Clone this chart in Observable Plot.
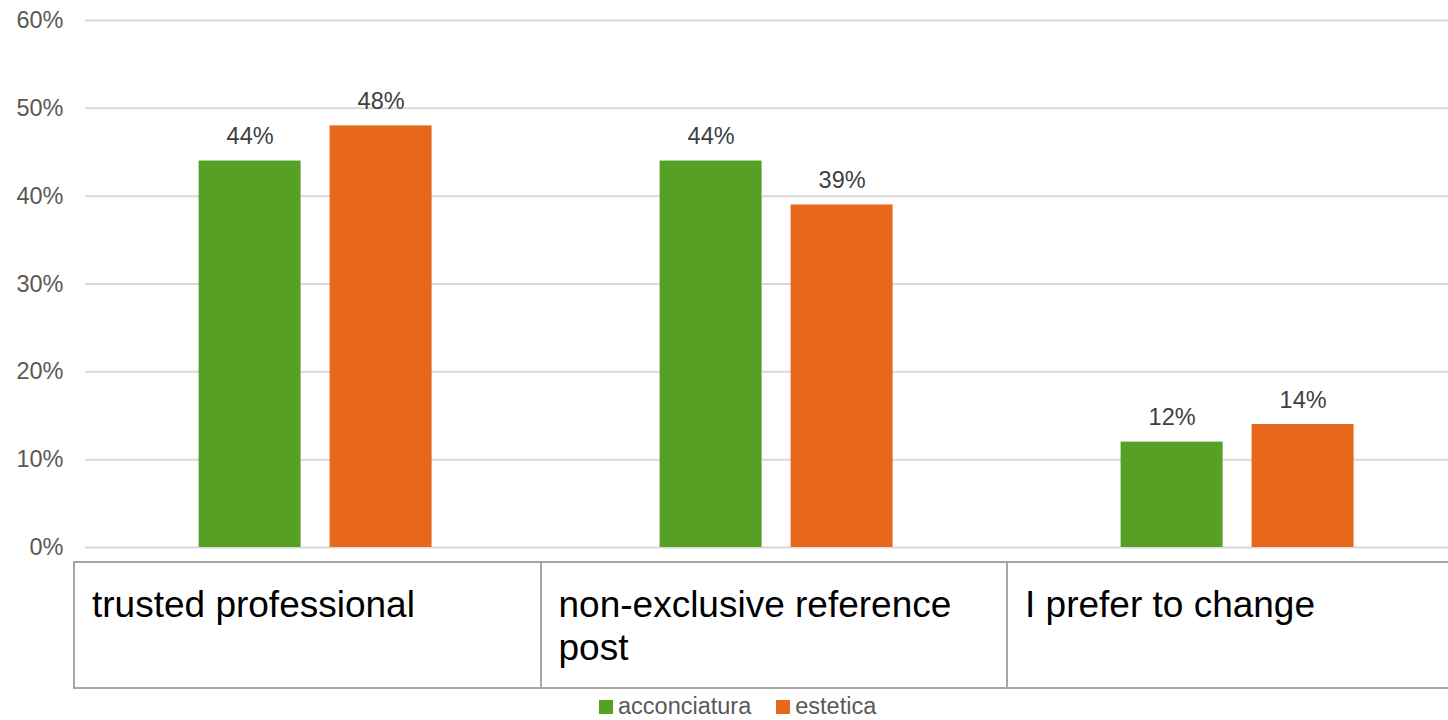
<!DOCTYPE html>
<html>
<head>
<meta charset="utf-8">
<script src="https://cdn.jsdelivr.net/npm/d3@7"></script>
<script src="https://cdn.jsdelivr.net/npm/@observablehq/plot@0.6"></script>
<style>
  html, body { margin: 0; padding: 0; background: #fff; }
  #wrap { position: relative; width: 1448px; height: 720px; overflow: hidden; background: #fff;
          font-family: "Liberation Sans", Arial, sans-serif; }
  #chart { position: absolute; left: 0; top: 0; width: 1469px; }
  #chart svg { max-width: none !important; }
  #table { position: absolute; left: 73px; top: 561px; height: 128px; display: grid;
           grid-template-columns: repeat(3, 466.5px); box-sizing: border-box;
           border-top: 2px solid #A6A6A6; border-bottom: 2px solid #A6A6A6; }
  #table .cell { box-sizing: border-box; border-left: 2px solid #A6A6A6; padding: 20px 30px 0 17px;
                 font-size: 37px; line-height: 43px; color: #000; }
  #legend { position: absolute; left: 599px; top: 693px; display: flex; align-items: center;
            font-size: 23.5px; color: #595959; }
  #legend .item { display: flex; align-items: center; margin-right: 25px; }
  #legend .sw { width: 14px; height: 14px; margin-right: 5px; }
</style>
</head>
<body>
<div id="wrap">
  <div id="chart"></div>
  <div id="table"></div>
  <div id="legend"></div>
</div>
<script>
const categories = ["trusted professional", "non-exclusive reference post", "I prefer to change"];
const series = ["acconciatura", "estetica"];
const acconciatura = [0.44, 0.44, 0.12];
const estetica = [0.48, 0.39, 0.14];
const colors = ["#55A025", "#E8681B"];
const yTicks = [0, 0.1, 0.2, 0.3, 0.4, 0.5, 0.6];

const values = {acconciatura, estetica};
const data = categories.flatMap((c, i) => series.map(s => ({category: c, series: s, value: values[s][i]})));
const pct = d => Math.round(d * 100) + "%";

const chart = Plot.plot({
  width: 1469,
  height: 549,
  marginLeft: 83.4,
  marginRight: 0,
  marginTop: 20,
  marginBottom: 2,
  style: {fontFamily: "'Liberation Sans', Arial, sans-serif", fontSize: "23.5px", color: "#595959", background: "white", overflow: "visible", maxWidth: "none"},
  fx: {domain: categories, padding: 0, axis: null, label: null},
  x: {domain: series, paddingInner: 0.22, paddingOuter: 0.858, axis: null},
  y: {domain: [0, 0.6], ticks: yTicks, tickFormat: pct, tickSize: 0, tickPadding: 22, label: null},
  color: {domain: series, range: colors},
  marks: [
    Plot.ruleY(yTicks, {stroke: "#D9D9D9", strokeWidth: 2}),
    Plot.barY(data, {fx: "category", x: "series", y: "value", fill: "series"}),
    Plot.text(data, {fx: "category", x: "series", y: "value", text: d => pct(d.value),
                     lineAnchor: "bottom", dy: -17, fill: "#404040", fontSize: 23.5})
  ]
});
document.getElementById("chart").appendChild(chart);

d3.select("#table").selectAll("div.cell").data(categories).join("div")
  .attr("class", "cell").text(d => d);

const items = d3.select("#legend").selectAll("div.item").data(series).join("div").attr("class", "item");
items.append("div").attr("class", "sw").style("background", (d, i) => colors[i]);
items.append("span").text(d => d);
</script>
</body>
</html>
